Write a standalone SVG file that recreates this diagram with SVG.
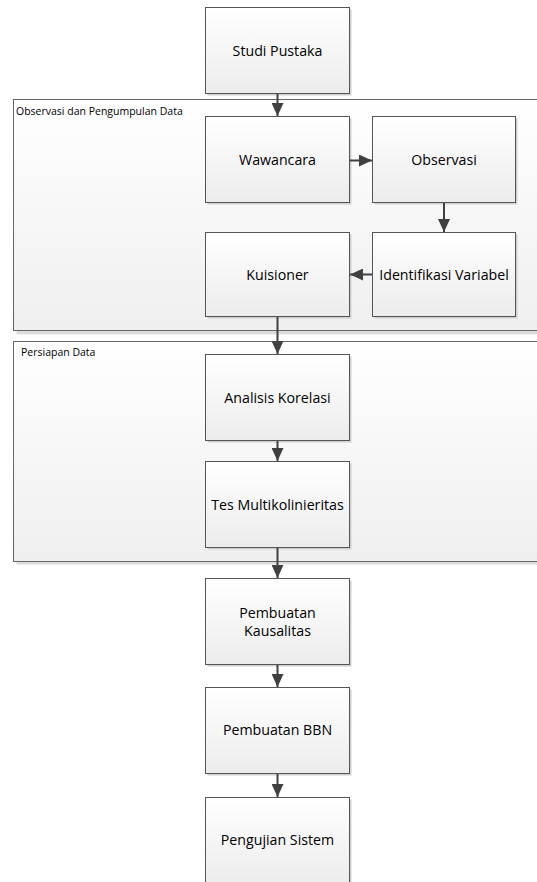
<svg xmlns="http://www.w3.org/2000/svg" width="537" height="882" viewBox="0 0 537 882">
<defs>
<linearGradient id="gBox" x1="0" y1="0" x2="0" y2="1">
<stop offset="0" stop-color="#ffffff"/>
<stop offset="1" stop-color="#ececec"/>
</linearGradient>
<linearGradient id="gGrp" x1="0" y1="0" x2="0" y2="1">
<stop offset="0" stop-color="#ffffff"/>
<stop offset="1" stop-color="#efefef"/>
</linearGradient>
<marker id="ah" viewBox="0 0 13 12" markerWidth="13" markerHeight="12" refX="13" refY="6" orient="auto" markerUnits="userSpaceOnUse">
<path d="M0,0 L13,6 L0,12 z" fill="#404040"/>
</marker>
</defs>
<style>
.box{fill:url(#gBox);stroke:#555555;stroke-width:1}
.shd{fill:#cfcfcf}
.grp{fill:url(#gGrp);stroke:#666666;stroke-width:1}
.gshd{fill:#dddddd}
.t{font-family:"Open Sans","Noto Sans","Liberation Sans",sans-serif;font-size:14.2px;fill:#000;text-anchor:middle}
.gt{font-family:"Open Sans","Noto Sans","Liberation Sans",sans-serif;font-size:10.5px;fill:#000}
.e{fill:none;stroke:#404040;stroke-width:2;marker-end:url(#ah)}
</style>
<rect width="537" height="882" fill="#ffffff"/>

<g id="group-observasi">
<rect class="gshd" x="16.5" y="102.5" width="530" height="232"/>
<rect class="grp" x="13.5" y="99.5" width="530" height="231"/>
<text class="gt" x="16" y="115">Observasi dan Pengumpulan Data</text>
</g>
<g id="group-persiapan">
<rect class="gshd" x="16.5" y="344.5" width="530" height="220"/>
<rect class="grp" x="13.5" y="341.5" width="530" height="220"/>
<text class="gt" x="21" y="356">Persiapan Data</text>
</g>

<g id="studi-pustaka">
<rect class="shd" x="207.5" y="9.5" width="144" height="86"/>
<rect class="box" x="205.5" y="7.5" width="144" height="86"/>
<text class="t" x="277.5" y="55.5">Studi Pustaka</text>
</g>
<g id="wawancara">
<rect class="shd" x="207.5" y="118.5" width="144" height="86"/>
<rect class="box" x="205.5" y="116.5" width="144" height="86"/>
<text class="t" x="277.5" y="165">Wawancara</text>
</g>
<g id="observasi">
<rect class="shd" x="374.5" y="118.5" width="143" height="86"/>
<rect class="box" x="372.5" y="116.5" width="143" height="86"/>
<text class="t" x="444" y="165">Observasi</text>
</g>
<g id="kuisioner">
<rect class="shd" x="207.5" y="234.5" width="144" height="84"/>
<rect class="box" x="205.5" y="232.5" width="144" height="84"/>
<text class="t" x="277.5" y="280">Kuisioner</text>
</g>
<g id="identifikasi-variabel">
<rect class="shd" x="374.5" y="234.5" width="143" height="84"/>
<rect class="box" x="372.5" y="232.5" width="143" height="84"/>
<text class="t" x="444" y="280">Identifikasi Variabel</text>
</g>
<g id="analisis-korelasi">
<rect class="shd" x="207.5" y="356.5" width="144" height="86"/>
<rect class="box" x="205.5" y="354.5" width="144" height="86"/>
<text class="t" x="277.5" y="403">Analisis Korelasi</text>
</g>
<g id="tes-multikolinieritas">
<rect class="shd" x="207.5" y="463.5" width="144" height="86"/>
<rect class="box" x="205.5" y="461.5" width="144" height="86"/>
<text class="t" x="277.5" y="510">Tes Multikolinieritas</text>
</g>
<g id="pembuatan-kausalitas">
<rect class="shd" x="207.5" y="580.5" width="144" height="86"/>
<rect class="box" x="205.5" y="578.5" width="144" height="86"/>
<text class="t" x="277.5" y="617.5">Pembuatan</text>
<text class="t" x="277.5" y="636">Kausalitas</text>
</g>
<g id="pembuatan-bbn">
<rect class="shd" x="207.5" y="689.5" width="144" height="86"/>
<rect class="box" x="205.5" y="687.5" width="144" height="86"/>
<text class="t" x="277.5" y="735">Pembuatan BBN</text>
</g>
<g id="pengujian-sistem">
<rect class="shd" x="207.5" y="799.5" width="144" height="86"/>
<rect class="box" x="205.5" y="797.5" width="144" height="86"/>
<text class="t" x="277.5" y="845">Pengujian Sistem</text>
</g>

<g id="connectors">
<path class="e" d="M277.5,94 L277.5,116"/>
<path class="e" d="M350,160.5 L372,160.5"/>
<path class="e" d="M444,203 L444,232"/>
<path class="e" d="M372,274.5 L350,274.5"/>
<path class="e" d="M277.5,317 L277.5,354"/>
<path class="e" d="M277.5,441 L277.5,461"/>
<path class="e" d="M277.5,548 L277.5,578"/>
<path class="e" d="M277.5,665 L277.5,687"/>
<path class="e" d="M277.5,774 L277.5,797"/>
</g>
</svg>
